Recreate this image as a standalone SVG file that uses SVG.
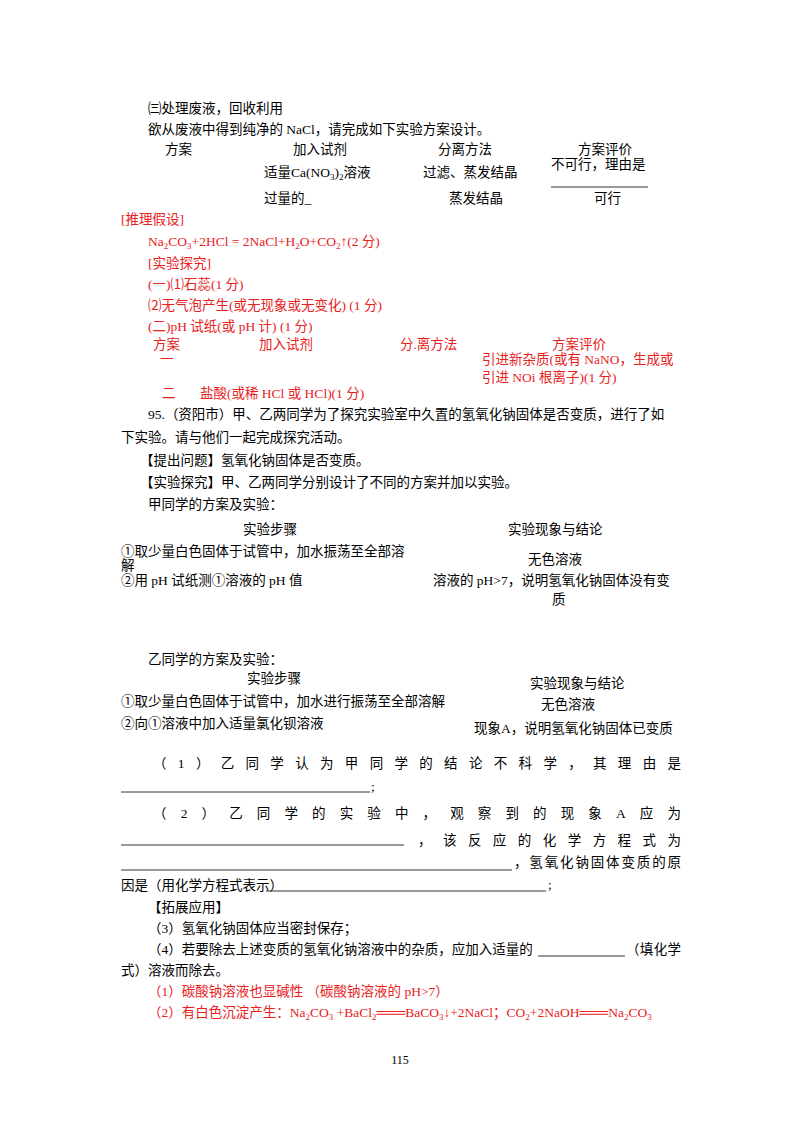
<svg xmlns="http://www.w3.org/2000/svg" width="800" height="1132" viewBox="0 0 800 1132">
<style>
text{font-family:"Liberation Serif","Noto Sans CJK SC",serif;font-size:13.5px;fill:#000}
.r{fill:#e8211d}
.sub{font-size:9px}
line{stroke:#000;stroke-width:0.8}
</style>
<rect width="800" height="1132" fill="#fff"/>
<text x="148" y="113">㈢处理废液，回收利用</text>
<text x="148" y="134">欲从废液中得到纯净的 NaCl，请完成如下实验方案设计。</text>
<text x="165" y="154">方案</text><text x="293" y="154">加入试剂</text><text x="438" y="154">分离方法</text><text x="578" y="154">方案评价</text>
<text x="264" y="177">适量Ca(NO<tspan class="sub" dy="3">3</tspan><tspan dy="-3">)</tspan><tspan class="sub" dy="3">2</tspan><tspan dy="-3">溶液</tspan></text>
<text x="423" y="177">过滤、蒸发结晶</text>
<text x="551" y="169">不可行，理由是</text>
<line x1="551" y1="187" x2="648" y2="187"/>
<text x="264" y="203">过量的_</text><text x="449" y="203">蒸发结晶</text><text x="594" y="203">可行</text>
<text class="r" x="121" y="224">[推理假设]</text>
<text class="r" x="148" y="246">Na<tspan class="sub" dy="3">2</tspan><tspan dy="-3">CO</tspan><tspan class="sub" dy="3">3</tspan><tspan dy="-3">+2HCl = 2NaCl+H</tspan><tspan class="sub" dy="3">2</tspan><tspan dy="-3">O+CO</tspan><tspan class="sub" dy="3">2</tspan><tspan dy="-3">↑(2 分)</tspan></text>
<text class="r" x="148" y="268">[实验探究]</text>
<text class="r" x="148" y="289">(一)⑴石蕊(1 分)</text>
<text class="r" x="148" y="310">⑵无气泡产生(或无现象或无变化) (1 分)</text>
<text class="r" x="148" y="331">(二)pH 试纸(或 pH 计) (1 分)</text>
<text class="r" x="153" y="349">方案</text><text class="r" x="259" y="349">加入试剂</text><text class="r" x="400" y="349">分.离方法</text><text class="r" x="552" y="349">方案评价</text>
<text class="r" x="160" y="364">一</text>
<text class="r" x="482" y="364">引进新杂质(或有 NaNO，生成或</text>
<text class="r" x="482" y="382">引进 NOi 根离子)(1 分)</text>
<text class="r" x="162" y="398">二</text><text class="r" x="200" y="398">盐酸(或稀 HCl 或 HCl)(1 分)</text>
<text x="148" y="419">95.（资阳市）甲、乙两同学为了探究实验室中久置的氢氧化钠固体是否变质，进行了如</text>
<text x="121" y="442">下实验。请与他们一起完成探究活动。</text>
<text x="140" y="465">【提出问题】氢氧化钠固体是否变质。</text>
<text x="140" y="487">【实验探究】甲、乙两同学分别设计了不同的方案并加以实验。</text>
<text x="148" y="509">甲同学的方案及实验：</text>
<text x="243" y="534">实验步骤</text><text x="508" y="534">实验现象与结论</text>
<text x="121" y="556">①取少量白色固体于试管中，加水振荡至全部溶</text>
<text x="121" y="570">解</text>
<text x="528" y="564">无色溶液</text>
<text x="121" y="585">②用 pH 试纸测①溶液的 pH 值</text>
<text x="433" y="585">溶液的 pH&gt;7，说明氢氧化钠固体没有变</text>
<text x="552" y="604">质</text>
<text x="148" y="664">乙同学的方案及实验：</text>
<text x="247" y="683">实验步骤</text><text x="530" y="688">实验现象与结论</text>
<text x="121" y="706">①取少量白色固体于试管中，加水进行振荡至全部溶解</text>
<text x="541" y="709">无色溶液</text>
<text x="121" y="728">②向①溶液中加入适量氯化钡溶液</text>
<text x="474" y="733">现象A，说明氢氧化钠固体已变质</text>
<text x="153" y="768" textLength="528" lengthAdjust="spacing">（1）乙同学认为甲同学的结论不科学，其理由是</text>
<line x1="121" y1="792" x2="370" y2="792"/><text x="371" y="791">;</text>
<text x="153" y="818" textLength="528" lengthAdjust="spacing">（2）乙同学的实验中，观察到的现象A应为</text>
<line x1="121" y1="845" x2="404" y2="845"/>
<text x="418" y="845" textLength="263" lengthAdjust="spacing">，该反应的化学方程式为</text>
<line x1="121" y1="870" x2="512" y2="870"/>
<text x="514" y="867" textLength="167" lengthAdjust="spacing">，氢氧化钠固体变质的原</text>
<text x="121" y="890">因是（用化学方程式表示）</text>
<line x1="266" y1="891" x2="546" y2="891"/><text x="548" y="889">;</text>
<text x="148" y="912">【拓展应用】</text>
<text x="148" y="933">（3）氢氧化钠固体应当密封保存；</text>
<text x="148" y="954">（4）若要除去上述变质的氢氧化钠溶液中的杂质，应加入适量的</text>
<line x1="538" y1="956" x2="625" y2="956"/>
<text x="626" y="954" textLength="55" lengthAdjust="spacing">（填化学</text>
<text x="121" y="975">式）溶液而除去。</text>
<text class="r" x="148" y="996">（1）碳酸钠溶液也显碱性 （碳酸钠溶液的 pH&gt;7）</text>
<text class="r" x="148" y="1017">（2）有白色沉淀产生：Na<tspan class="sub" dy="3">2</tspan><tspan dy="-3">CO</tspan><tspan class="sub" dy="3">3</tspan><tspan dy="-3"> +BaCl</tspan><tspan class="sub" dy="3">2</tspan><tspan dy="-3">═══BaCO</tspan><tspan class="sub" dy="3">3</tspan><tspan dy="-3">↓+2NaCl；CO</tspan><tspan class="sub" dy="3">2</tspan><tspan dy="-3">+2NaOH═══Na</tspan><tspan class="sub" dy="3">2</tspan><tspan dy="-3">CO</tspan><tspan class="sub" dy="3">3</tspan></text>
<text x="400" y="1064" text-anchor="middle" style="font-size:12px">115</text>
</svg>
